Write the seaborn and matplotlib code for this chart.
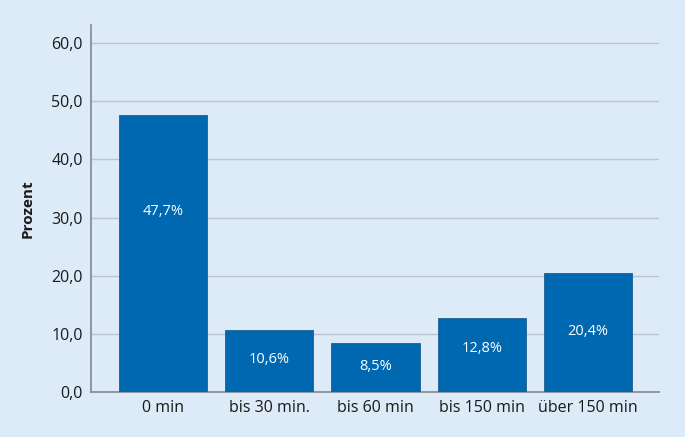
import numpy as np
import pandas as pd
import seaborn as sns
import matplotlib.pyplot as plt

categories = ['0 min', 'bis 30 min.', 'bis 60 min', 'bis 150 min', 'über 150 min']
values = [47.7, 10.6, 8.5, 12.8, 20.4]
labels = ['47,7%', '10,6%', '8,5%', '12,8%', '20,4%']
ticks = [0, 10, 20, 30, 40, 50, 60]

bg = '#ddeaf7'
bar_color = '#0068b0'

sns.set_style('white')
plt.rcParams['font.family'] = ['Open Sans', 'DejaVu Sans']

df = pd.DataFrame({'Kategorie': categories, 'Prozent': values})

fig = plt.figure(figsize=(6.85, 4.37), dpi=100, facecolor=bg)
ax = fig.add_axes([91 / 685, 1 - 392 / 437, 568 / 685, 367 / 437])
ax.set_facecolor(bg)

sns.barplot(data=df, x='Kategorie', y='Prozent', color=bar_color, width=0.83,
            saturation=1, edgecolor='#1f5d8f', linewidth=0.6, ax=ax, zorder=3)

# label heights as a fraction of the bar
frac = [0.65, 0.52, 0.51, 0.58, 0.51]
for i, (v, lab) in enumerate(zip(values, labels)):
    ax.text(i, v * frac[i], lab, ha='center', va='center', color='white', fontsize=10.5)

ax.set_ylim(0, 63.1)
ax.set_xlim(-0.678, 4.668)
ax.set_yticks(ticks)
ax.set_yticklabels([f'{t:.1f}'.replace('.', ',') for t in ticks], fontsize=11.5, color='#1a1a1a')
for t in ax.get_xticklabels():
    t.set_color('#1a1a1a')
ax.tick_params(axis='x', labelsize=11.5, length=0, pad=6)
ax.tick_params(axis='y', length=0, pad=6)
ax.grid(axis='y', color='#bcc4cc', linewidth=1, zorder=0)
ax.set_xlabel('')
ax.set_ylabel('Prozent', fontsize=11, fontweight='bold', color='#1a1a1a', labelpad=12)

for s in ['top', 'right']:
    ax.spines[s].set_visible(False)
ax.spines['left'].set_color('#8a9099')
ax.spines['left'].set_linewidth(1.3)
ax.spines['bottom'].set_color('#8a9099')
ax.spines['bottom'].set_linewidth(1.3)

fig.savefig('out.png', dpi=100, facecolor=bg)
